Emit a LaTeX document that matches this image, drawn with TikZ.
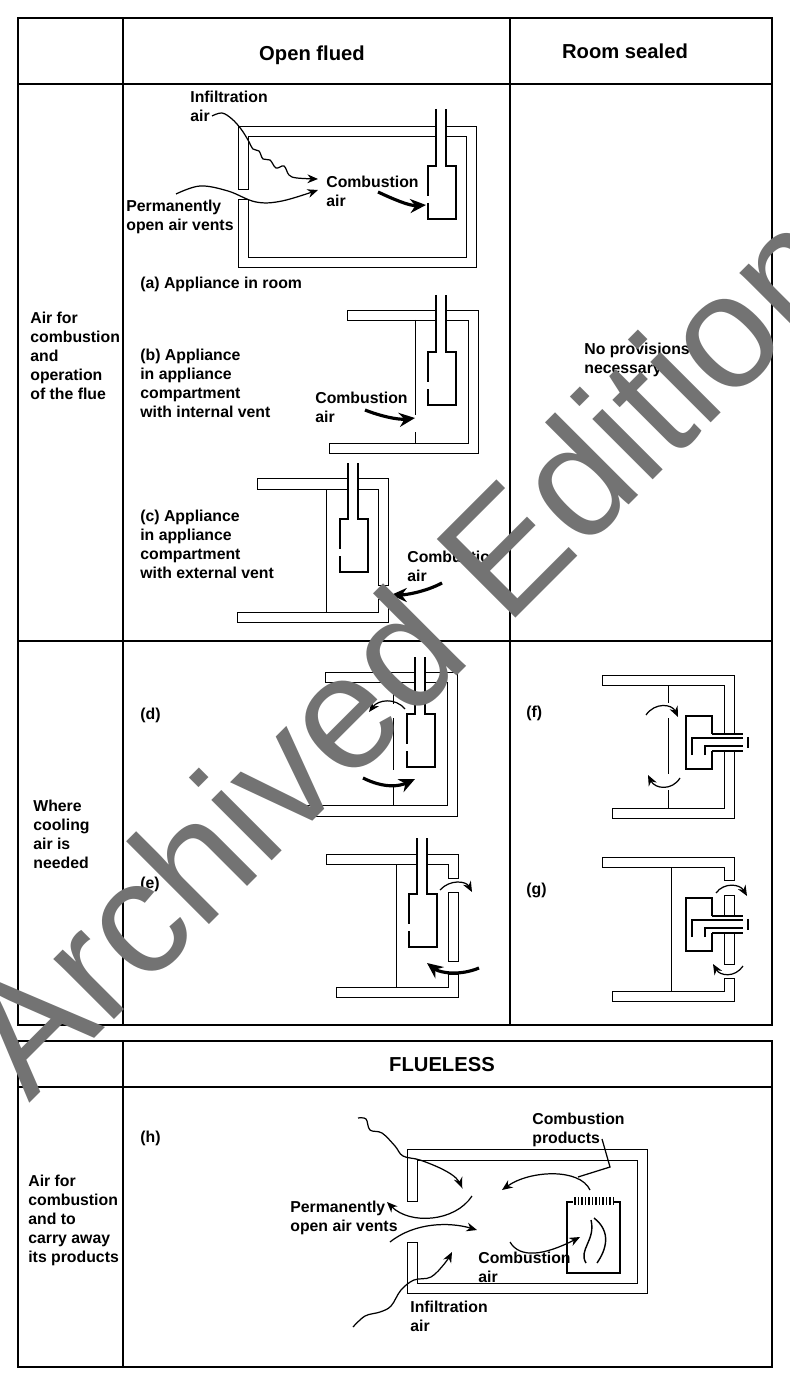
\documentclass[tikz,border=0pt]{standalone}
\usepackage{fontspec}
\setmainfont{Liberation Sans}
\usetikzlibrary{arrows.meta}
\tikzset{
  grid/.style={line width=0.6pt},
  wall/.style={line width=0.5pt},
  app/.style={line width=1.3pt},
  flow/.style={line width=0.7pt, -{Stealth[length=6pt,width=5pt]}},
  bigflow/.style={line width=1.8pt, -{Stealth[length=9pt,width=8pt]}},
  lbl/.style={anchor=west, inner sep=0pt, font=\fontsize{9}{10.8}\selectfont\bfseries},
  head/.style={inner sep=0pt, font=\fontsize{11.5}{13}\selectfont\bfseries}
}
% open flued appliance: box left, box top, flue top
\newcommand\openapp[3]{
  \fill[white] ({#1+8},#3) rectangle ({#1+18},#2);
  \draw[app] ({#1+8},#3) -- ({#1+8},#2) -- (#1,#2) -- (#1,{#2+30});
  \draw[app] (#1,{#2+37}) -- (#1,{#2+53}) -- ({#1+28},{#2+53}) -- ({#1+28},#2) -- ({#1+18},#2) -- ({#1+18},#3);
}
% room sealed appliance: box top
\newcommand\sealapp[1]{
  \fill[white] (712,{#1+18}) rectangle (743,{#1+35});
  \draw[app] (712,{#1+18}) -- (712,#1) -- (686,#1) -- (686,{#1+53}) -- (712,{#1+53}) -- (712,{#1+35});
  \draw[app] (712,{#1+18}) -- (743,{#1+18});
  \draw[app] (712,{#1+35}) -- (743,{#1+35});
  \draw[app] (692,{#1+39}) -- (692,{#1+22}) -- (743,{#1+22});
  \draw[app] (705,{#1+39}) -- (705,{#1+30}) -- (743,{#1+30});
  \draw[app] (748,{#1+21}) -- (748,{#1+32});
}
\begin{document}
\begin{tikzpicture}[x=0.02cm, y=-0.02cm]
  \useasboundingbox (0,0) rectangle (790,1385);
  % Table
  \draw[grid] (18,18) rectangle (772,1025);
  \draw[grid] (123,18) -- (123,1025);
  \draw[grid] (510,18) -- (510,1025);
  \draw[grid] (18,84) -- (772,84);
  \draw[grid] (18,641) -- (772,641);
  \draw[grid] (18,1041) rectangle (772,1367);
  \draw[grid] (123,1041) -- (123,1367);
  \draw[grid] (18,1087) -- (772,1087);
  % Headers
  \node[head] (hopen) at (312,55) {Open flued};
  \node[head] (hseal) at (625,51) {Room sealed};
  \node[head] (hless) at (442,1065) {FLUELESS};
  % Row labels
  \node[lbl, align=left] (row1) at (30,356) {Air for\\combustion\\and\\operation\\of the flue};
  \node[lbl, align=left] (row2) at (33,834) {Where\\cooling\\air is\\needed};
  \node[lbl, align=left] (row3) at (28,1220) {Air for\\combustion\\and to\\carry away\\its products};
  \node[lbl, align=left] (nop) at (584,360) {No provisions\\necessary};

  % (a) Appliance in room
  \draw[wall] (238,189) -- (238,126) -- (476,126) -- (476,267) -- (238,267) -- (238,199) -- (248,199) -- (248,257) -- (466,257) -- (466,136) -- (248,136) -- (248,189) -- cycle;
  \openapp{428}{166}{109}
  \node[lbl, align=left] (ainf) at (190,106) {Infiltration\\air};
  \node[lbl, align=left] (acomb) at (326,191) {Combustion\\air};
  \node[lbl, align=left] (avent) at (126,217) {Permanently\\open air vents};
  \node[lbl] (acap) at (140,284) {(a) Appliance in room};
  \draw[flow] plot[smooth, tension=0.6] coordinates {(212,116) (222,113) (232,119) (241,129) (248,140) (253,149) (259,151) (263,159) (270,160) (276,168) (284,166) (289,175) (297,178) (318,179)};
  \draw[flow] plot[smooth, tension=0.6] coordinates {(176,194) (200,186) (228,191) (256,202) (282,201) (318,190)};
  \draw[bigflow] (378,192) .. controls (395,200) and (410,206) .. (426,205);

  % (b) Appliance in compartment, internal vent
  \draw[wall] (347,310) -- (478,310) -- (478,453) -- (329,453) -- (329,443) -- (468,443) -- (468,320) -- (347,320) -- cycle;
  \draw[wall] (415,320) -- (415,415);
  \draw[wall] (415,432) -- (415,443);
  \openapp{428}{352}{295}
  \node[lbl, align=left] (bcap) at (140,383) {(b) Appliance\\in appliance\\compartment\\with internal vent};
  \node[lbl, align=left] (bcomb) at (315,407) {Combustion\\air};
  \draw[bigflow] (365,410) .. controls (380,416) and (398,420) .. (415,418);

  % (c) Appliance in compartment, external vent
  \draw[wall] (257,478) -- (388,478) -- (388,585) -- (378,585) -- (378,489) -- (257,489) -- cycle;
  \draw[wall] (237,612) -- (378,612) -- (378,599) -- (388,599) -- (388,622) -- (237,622) -- cycle;
  \draw[wall] (326,489) -- (326,612);
  \openapp{340}{519}{463}
  \node[lbl, align=left] (ccap) at (140,544) {(c) Appliance\\in appliance\\compartment\\with external vent};
  \node[lbl, align=left] (ccomb) at (407,566) {Combustion\\air};
  \draw[bigflow] (442,583) .. controls (425,592) and (405,595) .. (391,595);

  % (d)
  \draw[wall] (325,672) -- (457,672) -- (457,816) -- (307,816) -- (307,805) -- (447,805) -- (447,682) -- (325,682) -- cycle;
  \draw[wall] (393,682) -- (393,704);
  \draw[wall] (393,718) -- (393,770);
  \draw[wall] (393,784) -- (393,805);
  \openapp{407}{714}{657}
  \node[lbl] (dcap) at (140,715) {(d)};
  \draw[flow] (405,709) .. controls (395,697) and (378,700) .. (369,712);
  \draw[bigflow] (363,778) .. controls (385,789) and (400,786) .. (415,779);

  % (e)
  \draw[wall] (326,854) -- (458,854) -- (458,878) -- (448,878) -- (448,864) -- (326,864) -- cycle;
  \draw[wall] (448,892) rectangle (458,961);
  \draw[wall] (336,987) -- (448,987) -- (448,974) -- (458,974) -- (458,997) -- (336,997) -- cycle;
  \draw[wall] (396,864) -- (396,987);
  \openapp{409}{894}{838}
  \node[lbl] (ecap) at (140,884) {(e)};
  \draw[flow] (440,890) .. controls (450,879) and (466,881) .. (472,892);
  \draw[bigflow] (479,968) .. controls (460,976) and (440,973) .. (427,963);

  % (f)
  \draw[wall] (734,733) -- (734,675) -- (602,675) -- (602,685) -- (724,685) -- (724,733);
  \draw[wall] (724,751) -- (724,808) -- (612,808) -- (612,818) -- (734,818) -- (734,751);
  \draw[wall] (668,685) -- (668,703);
  \draw[wall] (668,718) -- (668,774);
  \draw[wall] (668,790) -- (668,808);
  \sealapp{716}
  \node[lbl] (fcap) at (526,713) {(f)};
  \draw[flow] (646,715) .. controls (655,702) and (672,704) .. (678,717);
  \draw[flow] (680,778) .. controls (672,791) and (655,789) .. (648,775);

  % (g)
  \draw[wall] (602,857) -- (734,857) -- (734,880) -- (724,880) -- (724,867) -- (602,867) -- cycle;
  \draw[wall] (724,895) rectangle (734,964);
  \draw[wall] (612,991) -- (724,991) -- (724,978) -- (734,978) -- (734,1001) -- (612,1001) -- cycle;
  \draw[wall] (671,867) -- (671,991);
  \sealapp{898}
  \node[lbl] (gcap) at (526,890) {(g)};
  \draw[flow] (716,893) .. controls (724,882) and (740,884) .. (747,896);
  \draw[flow] (743,966) .. controls (735,978) and (720,976) .. (713,964);

  % (h) Flueless
  \draw[wall] (407,1201) -- (407,1149) -- (647,1149) -- (647,1293) -- (407,1293) -- (407,1242) -- (417,1242) -- (417,1283) -- (637,1283) -- (637,1160) -- (417,1160) -- (417,1201) -- cycle;
  \draw[wall, line width=0.8pt] (573,1202) -- (567,1202) -- (567,1273) -- (620,1273) -- (620,1202) -- (614,1202);
  \foreach \i in {0,...,11}
    \draw[line width=0.6pt] ({575+\i*3.5},1197) -- ++(0,8);
  \draw[line width=0.8pt] (586,1263) .. controls (578,1250) and (596,1240) .. (591,1220);
  \draw[line width=0.8pt] (594,1218) .. controls (612,1232) and (606,1250) .. (597,1263);
  \node[lbl] (hcap) at (140,1138) {(h)};
  \node[lbl, align=left] (hprod) at (532,1130) {Combustion\\products};
  \node[lbl, align=left] (hvent) at (290,1218) {Permanently\\open air vents};
  \node[lbl, align=left] (hcomb) at (478,1267) {Combustion\\air};
  \node[lbl, align=left] (hinf) at (410,1316) {Infiltration\\air};
  \draw[line width=0.7pt] (602,1139) -- (610,1167) -- (578,1177);
  \draw[flow] (590,1190) .. controls (580,1168) and (530,1170) .. (502,1190);
  \draw[flow] plot[smooth, tension=0.6] coordinates {(358,1118) (366,1119) (370,1130) (382,1133) (395,1146) (403,1156) (420,1160) (442,1169) (456,1178) (462,1188)};
  \draw[flow] (472,1196) .. controls (455,1222) and (410,1225) .. (387,1202);
  \draw[flow] (390,1242) .. controls (415,1222) and (450,1222) .. (477,1230);
  \draw[flow] (510,1242) .. controls (520,1259) and (545,1255) .. (580,1237);
  \draw[flow] plot[smooth, tension=0.6] coordinates {(353,1327) (365,1316) (380,1312) (391,1306) (401,1290) (414,1280) (431,1277) (445,1263) (452,1252)};

  % Watermark
  \node[rotate=45, text=black!55, inner sep=0pt, font=\fontsize{92}{92}\selectfont] (wm) at (402,650) {Archived Edition};
\end{tikzpicture}
\end{document}
